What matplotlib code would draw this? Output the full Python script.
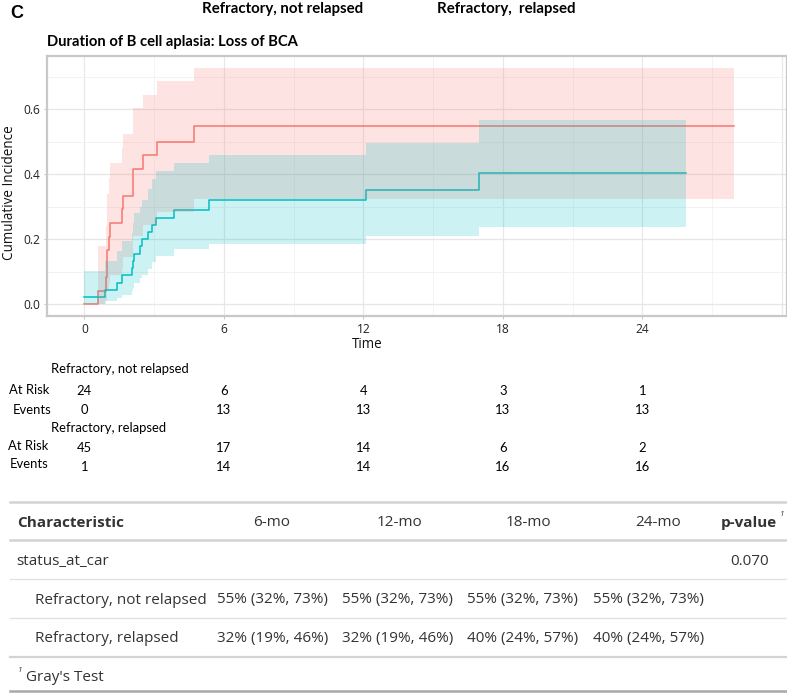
import matplotlib
matplotlib.use("Agg")
import matplotlib.pyplot as plt
import matplotlib.transforms as mtransforms
from matplotlib.lines import Line2D
import numpy as np

W, H = 787, 694

# ---------------- data ----------------
groups = ["Refractory, not relapsed", "Refractory, relapsed"]
colors = ["#F8766D", "#00BFC4"]

# Refractory, not relapsed (step times, estimate, CI)
t_nr = [0.0, 0.573, 0.93, 0.96, 0.99, 1.05, 1.12, 1.60, 1.68, 2.11, 2.51, 3.11, 4.73, 27.96]
y_nr = [0.0, 0.042, 0.083, 0.125, 0.167, 0.208, 0.250, 0.292, 0.333, 0.417, 0.458, 0.500, 0.549, 0.549]
lo_nr = [0.0, 0.002, 0.012, 0.030, 0.045, 0.065, 0.090, 0.110, 0.145, 0.210, 0.245, 0.285, 0.324, 0.324]
hi_nr = [0.0, 0.180, 0.240, 0.300, 0.340, 0.390, 0.435, 0.480, 0.525, 0.605, 0.645, 0.687, 0.728, 0.728]

# Refractory, relapsed
t_r = [0.0, 0.903, 1.39, 1.61, 2.04, 2.09, 2.15, 2.40, 2.47, 2.75, 2.90, 3.08, 3.86, 5.38, 12.10, 16.99, 25.87]
y_r = [0.022, 0.044, 0.067, 0.089, 0.111, 0.133, 0.156, 0.178, 0.200, 0.222, 0.244, 0.267, 0.290, 0.320, 0.352, 0.403, 0.403]
lo_r = [0.002, 0.010, 0.020, 0.030, 0.040, 0.050, 0.065, 0.080, 0.090, 0.110, 0.130, 0.150, 0.170, 0.187, 0.211, 0.237, 0.237]
hi_r = [0.104, 0.134, 0.165, 0.195, 0.220, 0.250, 0.280, 0.300, 0.320, 0.355, 0.385, 0.410, 0.435, 0.460, 0.497, 0.567, 0.567]

x_ticks = [0, 6, 12, 18, 24]
y_ticks = [0.0, 0.2, 0.4, 0.6]
y_tick_labels = ["0.0", "0.2", "0.4", "0.6"]

at_risk_nr = [24, 6, 4, 3, 1]
events_nr = [0, 13, 13, 13, 13]
at_risk_r = [45, 17, 14, 6, 2]
events_r = [1, 14, 14, 16, 16]

tbl_header = ["Characteristic", "6-mo", "12-mo", "18-mo", "24-mo", "p-value"]
tbl_var = "status_at_car"
tbl_p = "0.070"
tbl_nr = ["55% (32%, 73%)", "55% (32%, 73%)", "55% (32%, 73%)", "55% (32%, 73%)"]
tbl_r = ["32% (19%, 46%)", "32% (19%, 46%)", "40% (24%, 57%)", "40% (24%, 57%)"]

# ---------------- figure ----------------
fig = plt.figure(figsize=(W / 100, H / 100), dpi=100)

def fx(x):
    return x / W

def fy(y):
    return 1 - y / H

def pt(px):
    return px * 0.72

CAL = ["Lato", "DejaVu Sans"]
OS = ["Open Sans", "DejaVu Sans"]

left, right, top, bottom = 46.7, 786.5, 56, 316
ax = fig.add_axes([fx(left), fy(bottom), fx(right) - fx(left), (bottom - top) / H])
ax.set_xlim(-1.62, 30.2)
ax.set_ylim(-0.036, 0.764)

# grids
for xv in [3, 9, 15, 21, 27]:
    ax.axvline(xv, color="#f3f3f3", lw=0.6, zorder=0)
for xv in [0, 6, 12, 18, 24, 30]:
    ax.axvline(xv, color="#e8e8e8", lw=0.9, zorder=0)
for yv in [0.1, 0.3, 0.5, 0.7]:
    ax.axhline(yv, color="#f0f0f0", lw=0.6, zorder=0)
for yv in [0.0, 0.2, 0.4, 0.6]:
    ax.axhline(yv, color="#e6e6e6", lw=0.9, zorder=0)

series = [(t_nr, y_nr, lo_nr, hi_nr), (t_r, y_r, lo_r, hi_r)]
for (t, y, lo, hi), c in zip(series, colors):
    ax.step(t, y, where="post", color=c, lw=1.1, zorder=2)
for (t, y, lo, hi), c in zip(series, colors):
    ax.fill_between(t, lo, hi, step="post", color=c, alpha=0.2, lw=0, zorder=3)

for s in ax.spines.values():
    s.set_color("#c8c8c8")
    s.set_linewidth(1.6)

ax.set_xticks(x_ticks)
ax.set_xticklabels([str(v) for v in x_ticks], fontfamily=OS, fontsize=pt(12), color="#222222")
ax.set_yticks(y_ticks)
ax.set_yticklabels(y_tick_labels, fontfamily=OS, fontsize=pt(12), color="#222222")
ax.tick_params(axis="both", length=2.5, width=0.6, color="#bbbbbb", pad=2.5)

fig.text(fx(367), fy(344), "Time", ha="center", va="center", fontfamily=OS, fontsize=pt(13.5), color="#111111")
fig.text(fx(10), fy(193), "Cumulative Incidence", ha="center", va="center", rotation=90,
         fontfamily=OS, fontsize=pt(13.5), color="#111111")

# titles
fig.text(fx(10), fy(13.5), "C", ha="left", va="center", fontfamily=["Liberation Sans"], fontweight="bold",
         fontsize=pt(18), color="#000000")
fig.text(fx(282.5), fy(8.5), groups[0], ha="center", va="center", fontfamily=CAL, fontweight="bold",
         fontsize=pt(15), color="#000000")
fig.text(fx(506.5), fy(8.5), "Refractory,  relapsed", ha="center", va="center", fontfamily=CAL, fontweight="bold",
         fontsize=pt(15), color="#000000")
fig.text(fx(46.7), fy(42.3), "Duration of B cell aplasia: Loss of BCA", ha="left", va="center",
         fontfamily=CAL, fontweight="bold", fontsize=pt(14.7), color="#000000")

# risk table
bt = mtransforms.blended_transform_factory(ax.transData, fig.transFigure)
rt_size = pt(13)
fig.text(fx(51), fy(369.5), groups[0], ha="left", va="center", fontfamily=CAL, fontsize=rt_size)
fig.text(fx(9), fy(390), "At Risk", ha="left", va="center", fontfamily=CAL, fontsize=rt_size)
fig.text(fx(12.5), fy(410), "Events", ha="left", va="center", fontfamily=CAL, fontsize=rt_size)
fig.text(fx(51), fy(428), groups[1], ha="left", va="center", fontfamily=CAL, fontsize=rt_size)
fig.text(fx(8.5), fy(446), "At Risk", ha="left", va="center", fontfamily=CAL, fontsize=rt_size)
fig.text(fx(10), fy(464.5), "Events", ha="left", va="center", fontfamily=CAL, fontsize=rt_size)
rows = [(at_risk_nr, 391), (events_nr, 410.5), (at_risk_r, 447.5), (events_r, 467)]
for vals, yy in rows:
    for xt, v in zip(x_ticks, vals):
        fig.text(xt, fy(yy), str(v), transform=bt, ha="center", va="center", fontfamily=CAL, fontsize=rt_size)

# gt-style summary table
def hline(y, lw, color):
    fig.add_artist(Line2D([fx(10), fx(787)], [fy(y), fy(y)], transform=fig.transFigure, lw=lw, color=color))

hline(501.7, 1.8, "#d3d3d3")
hline(540, 1.8, "#d3d3d3")
hline(579.3, 1.0, "#e2e2e2")
hline(618.3, 1.0, "#e2e2e2")
hline(657.3, 1.6, "#d3d3d3")
hline(691, 1.8, "#a8a8a8")

ts = pt(15.2)
tc = "#333333"
fig.text(fx(16.7), fy(523), tbl_header[0], ha="left", va="center", fontfamily=OS, fontweight="bold", fontsize=ts, color=tc)
for xc, lab in zip([272, 400, 528, 658], tbl_header[1:5]):
    fig.text(fx(xc), fy(523), lab, ha="center", va="center", fontfamily=OS, fontsize=ts, color=tc)
fig.text(fx(777), fy(523), tbl_header[5], ha="right", va="center", fontfamily=OS, fontweight="bold", fontsize=ts, color=tc)
fig.text(fx(779.5), fy(514), "1", ha="left", va="center", fontfamily=OS, style="italic", fontsize=pt(8), color=tc)
fig.text(fx(16.7), fy(561.7), tbl_var, ha="left", va="center", fontfamily=OS, fontsize=ts, color=tc)
fig.text(fx(768.5), fy(561.7), tbl_p, ha="right", va="center", fontfamily=OS, fontsize=ts, color=tc)
fig.text(fx(35), fy(600), groups[0], ha="left", va="center", fontfamily=OS, fontsize=ts, color=tc)
fig.text(fx(35), fy(638.3), groups[1], ha="left", va="center", fontfamily=OS, fontsize=ts, color=tc)
for xs, a, b in zip([216.7, 342, 467.3, 592.7], tbl_nr, tbl_r):
    fig.text(fx(xs), fy(600), a, ha="left", va="center", fontfamily=OS, fontsize=ts, color=tc)
    fig.text(fx(xs), fy(638.3), b, ha="left", va="center", fontfamily=OS, fontsize=ts, color=tc)
fig.text(fx(18), fy(671), "1", ha="left", va="center", fontfamily=OS, style="italic", fontsize=pt(8), color=tc)
fig.text(fx(26), fy(677.7), "Gray's Test", ha="left", va="center", fontfamily=OS, fontsize=ts, color=tc)

fig.savefig("out.png", dpi=100)
